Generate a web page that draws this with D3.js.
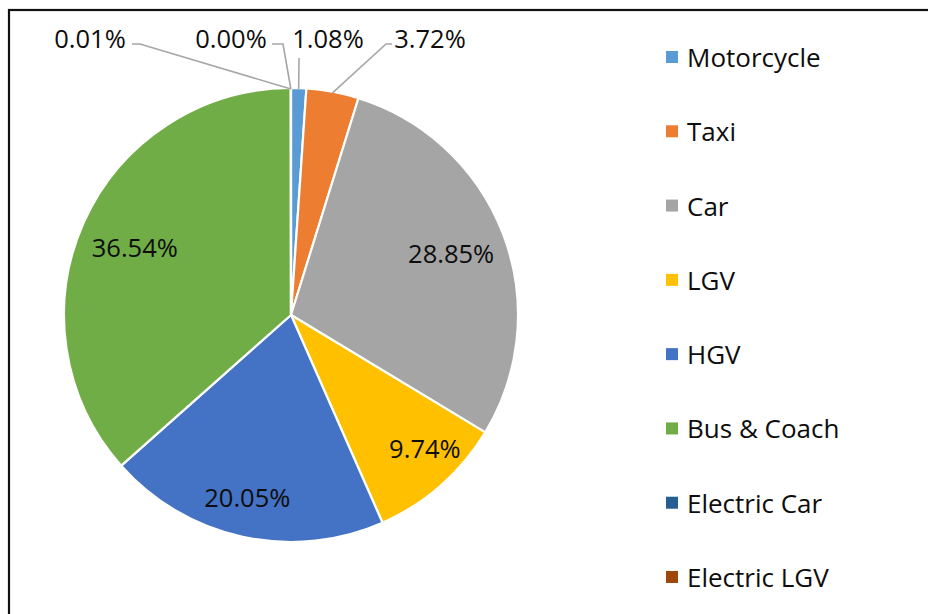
<!DOCTYPE html>
<html>
<head>
<meta charset="utf-8">
<script src="https://cdn.jsdelivr.net/npm/d3@7"></script>
<style>
  html, body { margin: 0; padding: 0; background: #fff; }
  svg { display: block; }
  text { font-family: "Open Sans", sans-serif; fill: #0d0d0d; }
</style>
</head>
<body>
<svg id="chart" width="928" height="614"></svg>
<script>
// ---- data ----
const categories = ["Motorcycle", "Taxi", "Car", "LGV", "HGV", "Bus & Coach", "Electric Car", "Electric LGV"];
const shares = [1.08, 3.72, 28.85, 9.74, 20.05, 36.54, 0.00, 0.01];
const labels = ["1.08%", "3.72%", "28.85%", "9.74%", "20.05%", "36.54%", "0.00%", "0.01%"];
const colors = ["#5B9BD5", "#ED7D31", "#A5A5A5", "#FFC000", "#4472C4", "#70AD47", "#255E91", "#9E480E"];

// ---- layout ----
const W = 928, H = 614;
const cx = 291, cy = 315, R = 227;
const fontSize = 25.5;

const svg = d3.select("#chart");

// frame (top and left edges visible; extends beyond the viewport)
svg.append("rect")
  .attr("x", 9).attr("y", 10)
  .attr("width", W + 20).attr("height", H + 20)
  .attr("fill", "none").attr("stroke", "#111").attr("stroke-width", 2.2);

const pie = d3.pie().value(d => d).sort(null);
const arcs = pie(shares);
const arc = d3.arc().innerRadius(0).outerRadius(R);

const g = svg.append("g").attr("transform", `translate(${cx},${cy})`);

g.selectAll("path.slice")
  .data(arcs)
  .join("path")
  .attr("class", "slice")
  .attr("d", arc)
  .attr("fill", (d, i) => colors[i])
  .attr("stroke", "#fff")
  .attr("stroke-width", 2.2)
  .attr("stroke-linejoin", "round");

// inside labels: index -> [radius factor, dx, dy]
const inside = { 2: [0.745, 2, -2], 3: [0.84, 8, -10], 4: [0.82, -4, 0], 5: [0.74, -3, 1] };
Object.entries(inside).forEach(([k, p]) => {
  const a = arcs[+k];
  const c = d3.arc().innerRadius(R * p[0]).outerRadius(R * p[0]).centroid(a);
  g.append("text")
    .attr("x", c[0] + p[1]).attr("y", c[1] + p[2])
    .attr("text-anchor", "middle")
    .attr("dominant-baseline", "central")
    .style("font-size", fontSize + "px")
    .text(labels[+k]);
});

// outside labels with leader lines
const outside = [
  { i: 7, lx: 90,  ly: 38, line: [[132, 44], [140, 44]] },
  { i: 6, lx: 231, ly: 38, line: [[272, 44], [283, 44]] },
  { i: 0, lx: 328, ly: 38, line: [[299, 58]] },
  { i: 1, lx: 430, ly: 38, line: [[392, 44], [386, 44]] }
];
const lineGen = d3.line();
outside.forEach(o => {
  const a = arcs[o.i];
  const mid = (a.startAngle + a.endAngle) / 2;
  const ex = cx + Math.sin(mid) * (R - 1);
  const ey = cy - Math.cos(mid) * (R - 1);
  svg.append("path")
    .attr("d", lineGen([...o.line, [ex, ey]]))
    .attr("fill", "none")
    .attr("stroke", "#A6A6A6")
    .attr("stroke-width", 1.6);
  svg.append("text")
    .attr("x", o.lx).attr("y", o.ly)
    .attr("text-anchor", "middle")
    .attr("dominant-baseline", "central")
    .style("font-size", fontSize + "px")
    .text(labels[o.i]);
});

// legend
const legendY = d3.scalePoint().domain(categories).range([57, 577]);
const leg = svg.append("g").selectAll("g")
  .data(categories)
  .join("g")
  .attr("transform", d => `translate(666,${legendY(d)})`);
leg.append("rect")
  .attr("x", 0).attr("y", -6)
  .attr("width", 12).attr("height", 12)
  .attr("fill", (d, i) => colors[i]);
leg.append("text")
  .attr("x", 21).attr("y", 0)
  .attr("dominant-baseline", "central")
  .style("font-size", "26px")
  .text(d => d);
</script>
</body>
</html>
